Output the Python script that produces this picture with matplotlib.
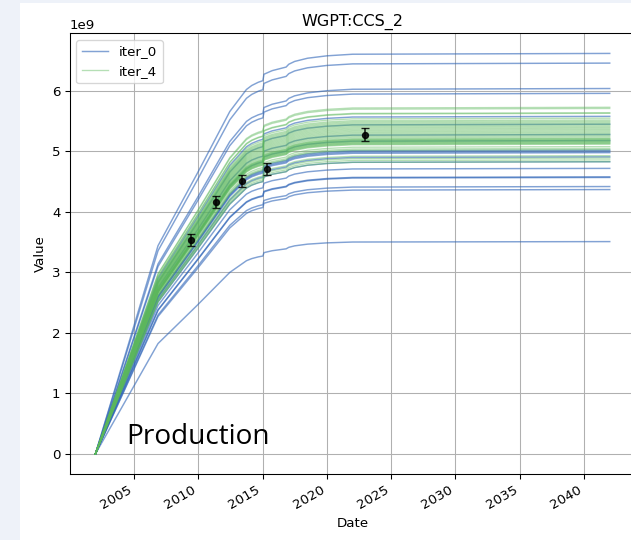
import matplotlib
matplotlib.use("Agg")
import matplotlib.pyplot as plt
import matplotlib.dates as mdates
from matplotlib.patches import Rectangle
import numpy as np
import pandas as pd

# common time axis and the shape of the cumulative curves (fraction of the plateau)
profile_dates = ["2002-01-01", "2006-11-15", "2009-12-01", "2012-06-15", "2013-10-01",
                 "2014-03-01", "2014-09-01", "2015-01-10", "2015-02-10", "2015-10-01",
                 "2016-11-01", "2017-01-15", "2017-07-01", "2018-07-01", "2020-01-01",
                 "2022-01-01", "2042-01-01"]
profile_frac = [0.0, 0.52, 0.70, 0.855, 0.91, 0.92, 0.928, 0.932, 0.948, 0.957,
                0.966, 0.973, 0.98, 0.988, 0.994, 0.998, 1.0]

# plateau value of each realisation [1e9]
iter0_final = [6.62, 6.46, 6.04, 5.96, 5.58, 5.45, 5.28, 5.18, 5.02, 5.00, 4.98,
               4.91, 4.83, 4.72, 4.58, 4.57, 4.42, 4.37, 3.51]
iter4_final = [5.73, 5.71, 5.64, 5.63, 5.55, 5.52, 5.50, 5.48, 5.46, 5.44, 5.42,
               5.40, 5.38, 5.36, 5.34, 5.32, 5.30, 5.28, 5.26, 5.24, 5.22, 5.21,
               5.20, 5.19, 5.18, 5.17, 5.16, 5.15, 5.14, 5.13, 5.12, 5.08, 5.05,
               5.03, 4.93, 4.89, 4.86, 4.83]

# observations with error bars
obs_dates = ["2009-06-15", "2011-06-01", "2013-06-01", "2015-05-15", "2022-12-15"]
obs_values = [3.54, 4.16, 4.51, 4.71, 5.28]
obs_err = [0.10, 0.10, 0.10, 0.10, 0.10]

dates = pd.to_datetime(profile_dates)
frac = np.array(profile_frac)

fig = plt.figure(figsize=(631 / 96, 540 / 96), dpi=96, facecolor="#eef2f9")
fig.patches.append(Rectangle((20 / 631, 0), 1, 537 / 540, transform=fig.transFigure,
                             facecolor="white", edgecolor="none", zorder=-5))
ax = fig.add_axes([69.7 / 631, 66 / 540, 565.7 / 631, 440.6 / 540])

for i, v in enumerate(iter0_final):
    ax.plot(dates, frac * v * 1e9, color="#2f65b8", alpha=0.6, linewidth=1.1,
            label="iter_0" if i == 0 else None)
for i, v in enumerate(iter4_final):
    ax.plot(dates, frac * v * 1e9, color="#5cb85c", alpha=0.45, linewidth=1.0,
            label="iter_4" if i == 0 else None)

ax.errorbar(pd.to_datetime(obs_dates), np.array(obs_values) * 1e9,
            yerr=np.array(obs_err) * 1e9, fmt="o", color="black", ms=4.5,
            capsize=3, elinewidth=1.2, alpha=0.85, zorder=5)

ax.set_xlim(pd.Timestamp("2000-01-02"), pd.Timestamp("2043-12-31"))
ax.xaxis.set_major_locator(mdates.YearLocator(5))
ax.xaxis.set_major_formatter(mdates.DateFormatter("%Y"))
plt.setp(ax.get_xticklabels(), rotation=30, ha="right")
ax.spines["right"].set_visible(False)

ax.set_title("WGPT:CCS_2")
ax.set_xlabel("Date")
ax.set_ylabel("Value")
ax.grid(True)
ax.legend(loc="upper left")

fig.text(126.7 / 631, (540 - 444.5) / 540, "Production", fontsize=21,
         family=["Open Sans", "DejaVu Sans"], color="black", zorder=10)

fig.savefig("out.png", dpi=96, facecolor=fig.get_facecolor())
